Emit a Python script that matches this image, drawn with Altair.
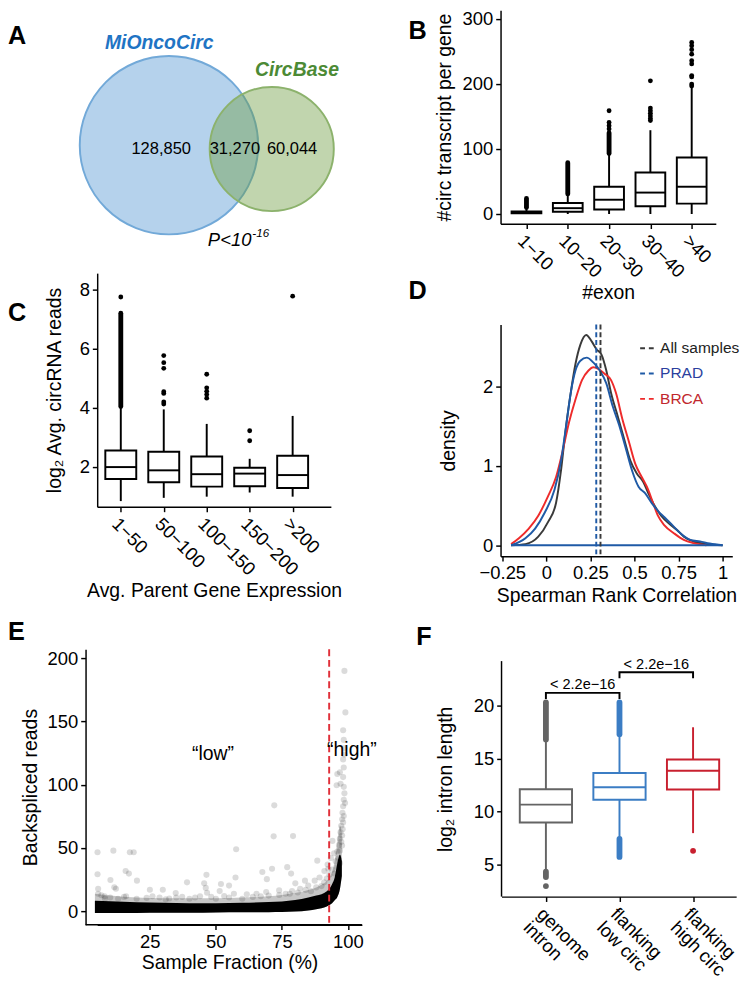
import altair as alt
import pandas as pd

FONT = "Liberation Sans"

# ---------------- Panel A: Venn diagram ----------------
venn_sets = ["MiOncoCirc", "CircBase"]
venn_cx = [74, 180]
venn_cy = [139, 143]
venn_r = [92, 64]
venn_fill = ["#5b9bd5", "#6b9a3f"]
venn_fill_opacity = [0.45, 0.42]
venn_stroke = ["#72a9d8", "#8cb26c"]
venn_label_x = [64, 206]
venn_label_y = [34, 62]
venn_label_color = ["#1f74c4", "#4c8a35"]
venn_counts = ["128,850", "31,270", "60,044"]
venn_count_x = [66, 142, 201]
venn_count_y = [143, 143, 143]
venn_p_text = ["P<10", "-16"]
venn_p_x = [159, 160]
venn_p_y = [237, 230]

# ---------------- Panel B ----------------
b_cats = ["1\u221210", "10\u221220", "20\u221230", "30\u221240", ">40"]
b_q1 = [1, 3.5, 7, 12, 16]
b_med = [2, 9, 22, 33, 42]
b_q3 = [4, 17, 42, 64, 87]
b_lo = [0, 0, 0, 0, 0]
b_hi = [9, 30, 91, 129, 194]
b_run_cat = ["1\u221210", "10\u221220", "20\u221230"]
b_run_lo = [10, 31, 93]
b_run_hi = [24, 79, 125]
b_out_cat = ["20\u221230"] * 4 + ["30\u221240"] * 7 + [">40"] * 10
b_out_val = [131, 136, 141, 159,
             144, 147, 151, 155, 159, 163, 205,
             197, 200, 211, 213, 231, 236, 246, 253, 259, 264]

# ---------------- Panel C ----------------
c_cats = ["1\u221250", "50\u2212100", "100\u2212150", "150\u2212200", ">200"]
c_q1 = [1.6, 1.49, 1.34, 1.35, 1.29]
c_med = [2.0, 1.89, 1.76, 1.78, 1.73]
c_q3 = [2.56, 2.52, 2.36, 1.98, 2.38]
c_lo = [0.85, 0.96, 1.0, 1.14, 1.0]
c_hi = [4.0, 3.95, 3.46, 2.28, 3.73]
c_run_cat = ["1\u221250"]
c_run_lo = [4.05]
c_run_hi = [7.2]
c_out_cat = ["1\u221250"] + ["50\u2212100"] * 7 + ["100\u2212150"] * 5 + ["150\u2212200"] * 2 + [">200"]
c_out_val = [7.75,
             4.13, 4.2, 4.49, 4.55, 5.34, 5.53, 5.77,
             4.33, 4.45, 4.56, 4.68, 5.14,
             2.89, 3.23,
             7.78]

# ---------------- Panel D ----------------
d_series = ["All samples", "PRAD", "BRCA"]
d_colors = ["#3a3a3a", "#1f5aa6", "#ee2b2b"]
d_text_colors = ["#222222", "#2b3f9e", "#c1272d"]
d_all_x = [-0.20, -0.119, -0.046, 0.009, 0.055, 0.083, 0.11, 0.138, 0.165, 0.193, 0.226, 0.257,
           0.285, 0.312, 0.34, 0.367, 0.404, 0.44, 0.477, 0.514, 0.55, 0.578, 0.615, 0.651,
           0.707, 0.743, 0.78, 0.835, 0.908, 1.0]
d_all_y = [0, 0.014, 0.108, 0.292, 0.536, 0.945, 1.475, 1.924, 2.291, 2.536, 2.658, 2.577,
           2.475, 2.413, 2.209, 1.924, 1.638, 1.353, 1.067, 0.904, 0.80, 0.659, 0.496, 0.373,
           0.251, 0.19, 0.108, 0.047, 0.014, 0]
d_prad_x = [-0.20, -0.119, -0.064, -0.009, 0.046, 0.083, 0.11, 0.138, 0.165, 0.193, 0.229, 0.266,
            0.303, 0.34, 0.376, 0.413, 0.45, 0.486, 0.523, 0.56, 0.597, 0.633, 0.67, 0.707,
            0.762, 0.817, 0.872, 0.927, 1.0]
d_prad_y = [0, 0.088, 0.21, 0.414, 0.70, 1.067, 1.475, 1.924, 2.209, 2.332, 2.372, 2.311,
            2.209, 2.046, 1.76, 1.516, 1.23, 0.945, 0.74, 0.659, 0.536, 0.435, 0.353, 0.271,
            0.149, 0.067, 0.047, 0.022, 0]
d_brca_x = [-0.20, -0.156, -0.10, -0.046, 0.009, 0.055, 0.092, 0.129, 0.165, 0.202, 0.239, 0.266,
            0.294, 0.33, 0.367, 0.395, 0.431, 0.468, 0.505, 0.541, 0.578, 0.605, 0.633, 0.67,
            0.725, 0.78, 0.835, 0.908]
d_brca_y = [0.014, 0.088, 0.21, 0.373, 0.618, 0.863, 1.189, 1.557, 1.842, 2.087, 2.209, 2.25,
            2.23, 2.169, 2.087, 1.924, 1.597, 1.312, 1.026, 0.863, 0.70, 0.536, 0.373, 0.251,
            0.149, 0.067, 0.027, 0]
d_median = [0.307, 0.283]            # All samples, PRAD
d_median_color = ["#3a3a3a", "#1f5aa6"]
d_base_range = [-0.2, 1.0]
d_legend_y = [2.49, 2.17, 1.85]
d_legend_dash = [0.532, 0.631]
d_legend_text_x = 0.645

# ---------------- Panel E ----------------
e_core_x = [4.2, 10, 20, 30, 40, 50, 60, 70, 75, 80, 85, 88, 90, 92, 93, 94, 95, 96, 97, 97.7]
e_core_hi = [8.4, 8.0, 7.2, 6.8, 6.5, 6.4, 6.8, 7.4, 7.9, 9.0, 11.0, 12.5, 13.5, 16.0, 17.9, 21.5, 26.8, 38, 45, 40]
e_core_lo = [-1.3, -1.3, -1.2, -1.1, -1.0, -0.8, -0.7, -0.6, -0.5, -0.1, 0.8, 1.8, 2.5, 4.0, 5.0, 6.5, 8.9, 11.5, 18, 28]
e_halo_hi = [14, 12.5, 11, 10.5, 10.5, 10.5, 11, 12, 13, 14.5, 17, 19, 21, 24, 27, 31, 40, 55, 68, 62]
e_pts_x = [5.19, 5.19, 11.19, 10.08, 17.43, 18.89, 15.83, 17.06, 20.12, 5.43, 5.43, 11.55, 12.16,
           39.08, 46.43, 45.57, 46.18, 46.67, 51.93, 51.44, 54.99, 57.68, 57.44, 72.12, 71.88,
           79.22, 67.6, 71.27, 69.31, 77.02, 78.49, 80.08, 83.75, 88.4, 94.15, 92.56, 94.76,
           95.37, 95.74, 95.99, 96.96, 98.19, 98.43, 98.19, 98.43, 98.68, 99.05, 98.68, 98.43,
           98.68, 98.43, 98.19, 97.94, 97.82, 97.46, 97.21, 96.96, 96.6, 98.68, 98.19, 97.21,
           98.92, 98.43, 98.19, 97.82, 95.99, 93.54, 92.32, 91.09, 89.25, 87.42, 84.97, 81.91,
           78.85, 76.41, 73.96, 69.06, 65.39, 61.72, 56.83, 53.16, 48.26, 42.14, 37.25, 32.35,
           28.68, 23.79, 15.22, 7.88, 6.66, 25.01, 29.91, 34.8,
           8, 10, 13, 16, 20, 26, 31, 35, 40, 44, 50, 55, 60, 64, 67, 70, 74, 78, 81, 84, 86,
           88, 90, 91, 92, 93, 94, 95, 96, 96.5, 97, 97.5, 97.8, 98, 96.3, 97]
e_pts_y = [46.8, 29.4, 48.0, 24.8, 46.8, 46.8, 31.9, 29.9, 24.3, 17.9, 14.0, 19.1, 17.9,
           23.0, 28.9, 22.2, 18.6, 14.8, 21.7, 16.1, 20.4, 49.1, 26.8, 83.8, 59.3,
           59.5, 31.2, 33.7, 25.5, 35.0, 29.9, 22.2, 24.3, 40.1, 55.7, 33.7, 46.0,
           39.6, 99.7, 108.6, 109.9, 120.1, 113.7, 143.1, 135.5, 129.1, 157.2, 190, 98.4,
           93.3, 88.2, 83.1, 77.9, 72.8, 67.7, 62.6, 57.5, 52.4, 124.0, 106.1, 100.9,
           85.6, 75.4, 70.3, 60.0, 47.3, 42.2, 37.0, 31.9, 26.8, 24.3, 20.4, 17.9,
           16.1, 14.0, 16.6, 15.3, 14.0, 13.5, 14.0, 12.2, 11.5, 11.0, 11.5, 10.2,
           11.0, 10.7, 11.5, 12.0, 12.8, 17.1, 17.1, 14.5,
           10, 11, 10, 12, 10, 12, 9.5, 11, 10, 12, 10, 11, 10, 11.5, 12, 12.5, 13, 14, 15, 17, 16,
           19, 20, 23, 26, 29, 33, 30, 35, 42, 48, 55, 52, 65, 28, 38]
e_threshold = 92.9
e_text = ["\u201clow\u201d", "\u201chigh\u201d"]
e_text_x = [48.9, 101.5]
e_text_y = [124, 127]

# ---------------- Panel F ----------------
f_cats = [["genome", "intron"], ["flanking", "low circ"], ["flanking", "high circ"]]
f_colors = ["#646464", "#3b7dc4", "#c8202f"]
f_q1 = [8.96, 11.1, 12.07]
f_med = [10.64, 12.29, 13.85]
f_q3 = [12.1, 13.63, 14.91]
f_lo = [4.4, 7.5, 7.95]
f_hi = [16.7, 17.2, 17.95]
f_run_cat = [1, 1, 2, 2]
f_run_lo = [16.8, 3.8, 17.3, 5.7]
f_run_hi = [20.3, 4.3, 20.3, 7.4]
f_out_cat = [1, 3]
f_out_val = [2.95, 6.28]
f_pairs = [(1, 2), (2, 3)]
f_bracket_y = [21.2, 23.15]
f_bracket_leg = 0.58
f_pval = ["< 2.2e\u221216", "< 2.2e\u221216"]

# ---------------- scales (axis frames) ----------------
B_X = [0.373, 5.584]; B_Y = [-14.9, 313.4]
C_X = [0.451, 5.89];  C_Y = [0.656, 8.557]
D_X = [-0.26, 1.055]; D_Y = [-0.14, 2.79]
E_X = [5.07, 105.3];  E_Y = [-10.5, 207]; E_X_AXIS0 = 0.7
F_X = [0.397, 3.586]; F_Y = [1.95, 25.31]; F_YTOP = 24.2

# panel letters: (letter, panel it is drawn in, px offset of left/baseline from that panel's plot corner)
panel_letters = [("A", "A", -92, 35), ("B", "B", -95, 29), ("D", "B", -95, 298),
                 ("C", "C", -92, 49), ("E", "E", -92, -10), ("F", "F", -88, -5)]


def letters(panel):
    sel = [(t, dx, dy) for t, p, dx, dy in panel_letters if p == panel]
    out = []
    for t, dx, dy in sel:
        out.append(alt.Chart(pd.DataFrame({"t": [t]})).mark_text(
            align="left", baseline="alphabetic", fontSize=26, fontWeight="bold", font=FONT, color="black"
        ).encode(x=alt.value(dx), y=alt.value(dy), text="t:N"))
    return out


def xq(field, dom, axis=None, title=None):
    kw = {}
    if title is not None:
        kw["title"] = title
    return alt.X(field, type="quantitative", scale=alt.Scale(domain=dom, nice=False, zero=False),
                 axis=axis, **kw)


def yq(field, dom, axis=None, title=None):
    kw = {}
    if title is not None:
        kw["title"] = title
    return alt.Y(field, type="quantitative", scale=alt.Scale(domain=dom, nice=False, zero=False),
                 axis=axis, **kw)


def box_layers(cats_pos, q1, med, q3, lo, hi, colors, runs, outs, XF, YF, half, dot, lw):
    s = pd.DataFrame({"pos": cats_pos, "q1": q1, "med": med, "q3": q3, "lo": lo, "hi": hi,
                      "color": colors})
    s["left"] = s["pos"] - half
    s["right"] = s["pos"] + half
    col = alt.Color("color:N", scale=None)
    whisk = alt.Chart(s).mark_rule(strokeWidth=lw).encode(x=XF("pos"), y=YF("lo"), y2="hi", color=col)
    box = alt.Chart(s).mark_rect(fill="white", strokeWidth=lw).encode(
        x=XF("left"), x2="right", y=YF("q1"), y2="q3", stroke=alt.Stroke("color:N", scale=None))
    medl = alt.Chart(s).mark_rule(strokeWidth=lw).encode(x=XF("left"), x2="right", y=YF("med"), color=col)
    run = alt.Chart(runs).mark_rule(strokeWidth=dot, strokeCap="round").encode(
        x=XF("pos"), y=YF("lo"), y2="hi", color=col)
    outp = alt.Chart(outs).mark_circle(size=dot * dot, opacity=1).encode(
        x=XF("pos"), y=YF("val"), color=col)
    return [whisk, box, medl, run, outp]


# ================= Panel A =================
a_circ = pd.DataFrame({"set": venn_sets, "x": venn_cx, "y": venn_cy, "r": venn_r,
                       "fill": venn_fill, "fo": venn_fill_opacity, "stroke": venn_stroke})
a_circ["size"] = (2 * a_circ["r"]) ** 2
AX = lambda f: xq(f, [0, 250])
AY = lambda f: alt.Y(f, type="quantitative",
                     scale=alt.Scale(domain=[0, 240], nice=False, zero=False, reverse=True), axis=None)
a1 = alt.Chart(a_circ).mark_point(shape="circle", filled=True, opacity=1, strokeWidth=2).encode(
    x=AX("x"), y=AY("y"), size=alt.Size("size:Q", scale=None, legend=None),
    fill=alt.Fill("fill:N", scale=None), fillOpacity=alt.FillOpacity("fo:Q", scale=None),
    stroke=alt.Stroke("stroke:N", scale=None), order=alt.Order("x:Q"))
a_lab = pd.DataFrame({"t": venn_sets, "x": venn_label_x, "y": venn_label_y, "c": venn_label_color})
a2 = alt.Chart(a_lab).mark_text(font=FONT, fontSize=20, fontWeight="bold", fontStyle="italic").encode(
    x=AX("x"), y=AY("y"), text="t:N", color=alt.Color("c:N", scale=None))
a_cnt = pd.DataFrame({"t": venn_counts, "x": venn_count_x, "y": venn_count_y})
a3 = alt.Chart(a_cnt).mark_text(font=FONT, fontSize=17, color="black").encode(
    x=AX("x"), y=AY("y"), text="t:N")
a_p1 = pd.DataFrame({"t": venn_p_text[:1], "x": venn_p_x[:1], "y": venn_p_y[:1]})
a_p2 = pd.DataFrame({"t": venn_p_text[1:], "x": venn_p_x[1:], "y": venn_p_y[1:]})
a4 = alt.Chart(a_p1).mark_text(font=FONT, fontSize=19, fontStyle="italic", align="right", color="black").encode(
    x=AX("x"), y=AY("y"), text="t:N")
a5 = alt.Chart(a_p2).mark_text(font=FONT, fontSize=12, fontStyle="italic", align="left", color="black").encode(
    x=AX("x"), y=AY("y"), text="t:N")
chart_a = alt.layer(a1, a2, a3, a4, a5, *letters("A")).properties(width=250, height=240)

# ================= Panel B =================
b_lab_expr = "[" + ",".join("'%s'" % c for c in b_cats) + "][datum.value - 1]"
b_xaxis = alt.Axis(values=list(range(1, len(b_cats) + 1)), labelExpr=b_lab_expr, labelAngle=45,
                   labelAlign="left", labelBaseline="top", title="#exon", titlePadding=2)
b_yaxis = alt.Axis(values=[0, 100, 200, 300], title="#circ transcript per gene", titlePadding=8)
BX = lambda f: xq(f, B_X, b_xaxis, "#exon")
BY = lambda f: yq(f, B_Y, b_yaxis, "#circ transcript per gene")
b_pos = list(range(1, len(b_cats) + 1))
b_runs = pd.DataFrame({"pos": [b_cats.index(c) + 1 for c in b_run_cat], "lo": b_run_lo,
                       "hi": b_run_hi, "color": "black"})
b_outs = pd.DataFrame({"pos": [b_cats.index(c) + 1 for c in b_out_cat], "val": b_out_val, "color": "black"})
chart_b = alt.layer(*box_layers(b_pos, b_q1, b_med, b_q3, b_lo, b_hi, ["black"] * 5, b_runs, b_outs,
                                BX, BY, 0.36, 5, 2), *letters("B")).properties(width=222, height=220)

# ================= Panel C =================
c_lab_expr = "[" + ",".join("'%s'" % c for c in c_cats) + "][datum.value - 1]"
c_xaxis = alt.Axis(values=list(range(1, len(c_cats) + 1)), labelExpr=c_lab_expr, labelAngle=45,
                   labelAlign="left", labelBaseline="top", title="Avg. Parent Gene Expression", titlePadding=2)
c_yaxis = alt.Axis(values=[2, 4, 6, 8], title="log\u2082 Avg. circRNA reads", titlePadding=15)
CX = lambda f: xq(f, C_X, c_xaxis, "Avg. Parent Gene Expression")
CY = lambda f: yq(f, C_Y, c_yaxis, "log\u2082 Avg. circRNA reads")
c_pos = list(range(1, len(c_cats) + 1))
c_runs = pd.DataFrame({"pos": [c_cats.index(c) + 1 for c in c_run_cat], "lo": c_run_lo,
                       "hi": c_run_hi, "color": "black"})
c_outs = pd.DataFrame({"pos": [c_cats.index(c) + 1 for c in c_out_cat], "val": c_out_val, "color": "black"})
chart_c = alt.layer(*box_layers(c_pos, c_q1, c_med, c_q3, c_lo, c_hi, ["black"] * 5, c_runs, c_outs,
                                CX, CY, 0.36, 5, 2), *letters("C")).properties(width=241, height=241)

# ================= Panel D =================
d_xaxis = alt.Axis(values=[-0.25, 0, 0.25, 0.5, 0.75, 1], format=".2~f", title="Spearman Rank Correlation",
                   titlePadding=4)
d_yaxis = alt.Axis(values=[0, 1, 2], title="density", titlePadding=25)
DX = lambda f: xq(f, D_X, d_xaxis, "Spearman Rank Correlation")
DY = lambda f: yq(f, D_Y, d_yaxis, "density")
rows = []
for name, col, xs, ys in zip(d_series, d_colors, [d_all_x, d_prad_x, d_brca_x], [d_all_y, d_prad_y, d_brca_y]):
    for i, (xv, yv) in enumerate(zip(xs, ys)):
        rows.append({"series": name, "color": col, "x": xv, "y": yv, "i": i})
d_df = pd.DataFrame(rows)
d_lines_list = [alt.Chart(d_df[d_df.series == s]).mark_line(strokeWidth=2, interpolate="monotone").encode(
    x=DX("x"), y=DY("y"), order="i:Q", color=alt.Color("color:N", scale=None))
    for s in ["All samples", "BRCA", "PRAD"]]
d_base = alt.Chart(pd.DataFrame({"x": [d_base_range[0]], "x2": [d_base_range[1]], "y": [0]})).mark_rule(
    strokeWidth=2, color="#1f5aa6").encode(x=DX("x"), x2="x2", y=DY("y"))
d_med = alt.Chart(pd.DataFrame({"x": d_median, "c": d_median_color})).mark_rule(
    strokeWidth=2, strokeDash=[5, 3]).encode(x=DX("x"), color=alt.Color("c:N", scale=None))
d_leg = pd.DataFrame({"t": d_series, "c": d_colors, "tc": d_text_colors, "y": d_legend_y,
                      "x0": d_legend_dash[0], "x1": d_legend_dash[1], "xt": d_legend_text_x})
d_leg_dash = alt.Chart(d_leg).mark_rule(strokeWidth=2, strokeDash=[5, 4]).encode(
    x=DX("x0"), x2="x1", y=DY("y"), color=alt.Color("c:N", scale=None))
d_leg_txt = alt.Chart(d_leg).mark_text(font=FONT, fontSize=16, align="left").encode(
    x=DX("xt"), y=DY("y"), text="t:N", color=alt.Color("tc:N", scale=None))
chart_d = alt.layer(*d_lines_list, d_base, d_med, d_leg_dash, d_leg_txt).properties(width=239, height=239)

# ================= Panel E =================
e_xaxis = alt.Axis(values=[25, 50, 75, 100], title="Sample Fraction (%)", titlePadding=2)
e_yaxis = alt.Axis(values=[0, 50, 100, 150, 200], title="Backspliced reads", offset=12, titlePadding=7)
EX = lambda f: xq(f, E_X, e_xaxis, "Sample Fraction (%)")
EY = lambda f: yq(f, E_Y, e_yaxis, "Backspliced reads")
e_band = pd.DataFrame({"x": e_core_x, "hi": e_core_hi, "lo": e_core_lo, "halo": e_halo_hi})
e_halo = alt.Chart(e_band).mark_area(color="black", opacity=0.22, interpolate="monotone").encode(
    x=EX("x"), y=EY("halo"), y2="lo")
e_core = alt.Chart(e_band).mark_area(color="black", opacity=1, interpolate="monotone").encode(
    x=EX("x"), y=EY("hi"), y2="lo")
e_pts = alt.Chart(pd.DataFrame({"x": e_pts_x, "y": e_pts_y})).mark_circle(
    size=40, color="black", opacity=0.14).encode(x=EX("x"), y=EY("y"))
e_thr = alt.Chart(pd.DataFrame({"x": [e_threshold]})).mark_rule(
    color="#e0303a", strokeWidth=2, strokeDash=[7, 4]).encode(x=EX("x"))
e_xline = alt.Chart(pd.DataFrame({"x": [E_X_AXIS0], "x2": [E_X[1]], "y": [E_Y[0]]})).mark_rule(
    color="black", strokeWidth=1.5).encode(x=EX("x"), x2="x2", y=EY("y"))
e_txt = alt.Chart(pd.DataFrame({"t": e_text, "x": e_text_x, "y": e_text_y})).mark_text(
    font=FONT, fontSize=20, color="black").encode(x=EX("x"), y=EY("y"), text="t:N")
chart_e = alt.layer(e_halo, e_pts, e_core, e_thr, e_xline, e_txt, *letters("E")).properties(
    width=273, height=284)

# ================= Panel F =================
f_lab_expr = "[" + ",".join("['%s','%s']" % (a, b) for a, b in f_cats) + "][datum.value - 1]"
f_xaxis = alt.Axis(values=[1, 2, 3], labelExpr=f_lab_expr, labelAngle=45, labelAlign="left",
                   labelBaseline="top", title=None, labelLineHeight=20)
f_yaxis = alt.Axis(values=[5, 10, 15, 20], domain=False, title="log\u2082 intron length", titlePadding=18,
                   titleY=(F_Y[1] - (F_YTOP + F_Y[0]) / 2) / (F_Y[1] - F_Y[0]) * 255)
FX = lambda f: alt.X(f, type="quantitative", scale=alt.Scale(domain=F_X, nice=False, zero=False),
                     axis=f_xaxis, title=None)
FY = lambda f: yq(f, F_Y, f_yaxis, "log\u2082 intron length")
f_pos = [1, 2, 3]
f_runs = pd.DataFrame({"pos": f_run_cat, "lo": f_run_lo, "hi": f_run_hi,
                       "color": [f_colors[p - 1] for p in f_run_cat]})
f_outs = pd.DataFrame({"pos": f_out_cat, "val": f_out_val, "color": [f_colors[p - 1] for p in f_out_cat]})
f_layers = box_layers(f_pos, f_q1, f_med, f_q3, f_lo, f_hi, f_colors, f_runs, f_outs, FX, FY, 0.355, 6, 2)
br_rows = []
for k, ((p1, p2), yb) in enumerate(zip(f_pairs, f_bracket_y)):
    pts = [(p1, yb - f_bracket_leg), (p1, yb), (p2, yb), (p2, yb - f_bracket_leg)]
    for i, (px, py) in enumerate(pts):
        br_rows.append({"b": k, "i": i, "x": px, "y": py})
f_br = alt.Chart(pd.DataFrame(br_rows)).mark_line(color="black", strokeWidth=2).encode(
    x=FX("x"), y=FY("y"), detail="b:N", order="i:Q")
f_ptxt = pd.DataFrame({"t": f_pval, "x": [(a + b) / 2 for a, b in f_pairs],
                       "y": [yb + 0.8 for yb in f_bracket_y]})
f_tx = alt.Chart(f_ptxt).mark_text(font=FONT, fontSize=15, color="black").encode(
    x=FX("x"), y=FY("y"), text="t:N")
f_yline = alt.Chart(pd.DataFrame({"x": [F_X[0]], "y0": [F_Y[0]], "y1": [F_YTOP]})).mark_rule(
    strokeWidth=1.5, color="black").encode(x=FX("x"), y=FY("y0"), y2="y1")
chart_f = alt.layer(*f_layers, f_br, f_tx, f_yline, *letters("F")).properties(width=242, height=255)

col_left = alt.vconcat(chart_a, chart_c, spacing=24)
col_right = alt.vconcat(chart_b, chart_d, spacing=20)
top = alt.hconcat(col_left, col_right, spacing=68)
row3 = alt.hconcat(chart_e, chart_f, spacing=40)
chart = alt.vconcat(top, row3, spacing=14).properties(
    padding={"left": 0, "top": -14, "right": 0, "bottom": 0})
chart = chart.configure_view(stroke=None).configure_axis(
    labelFont=FONT, titleFont=FONT, labelColor="black", titleColor="black", domainColor="black",
    tickColor="black", domainWidth=1.5, tickWidth=1.5, tickSize=5, grid=False, labelFontSize=19,
    titleFontSize=20, titleFontWeight="normal", labelFlush=False, labelOverlap=False, labelPadding=3)

chart.save("out.html", embed_options={"renderer": "svg", "actions": False})
